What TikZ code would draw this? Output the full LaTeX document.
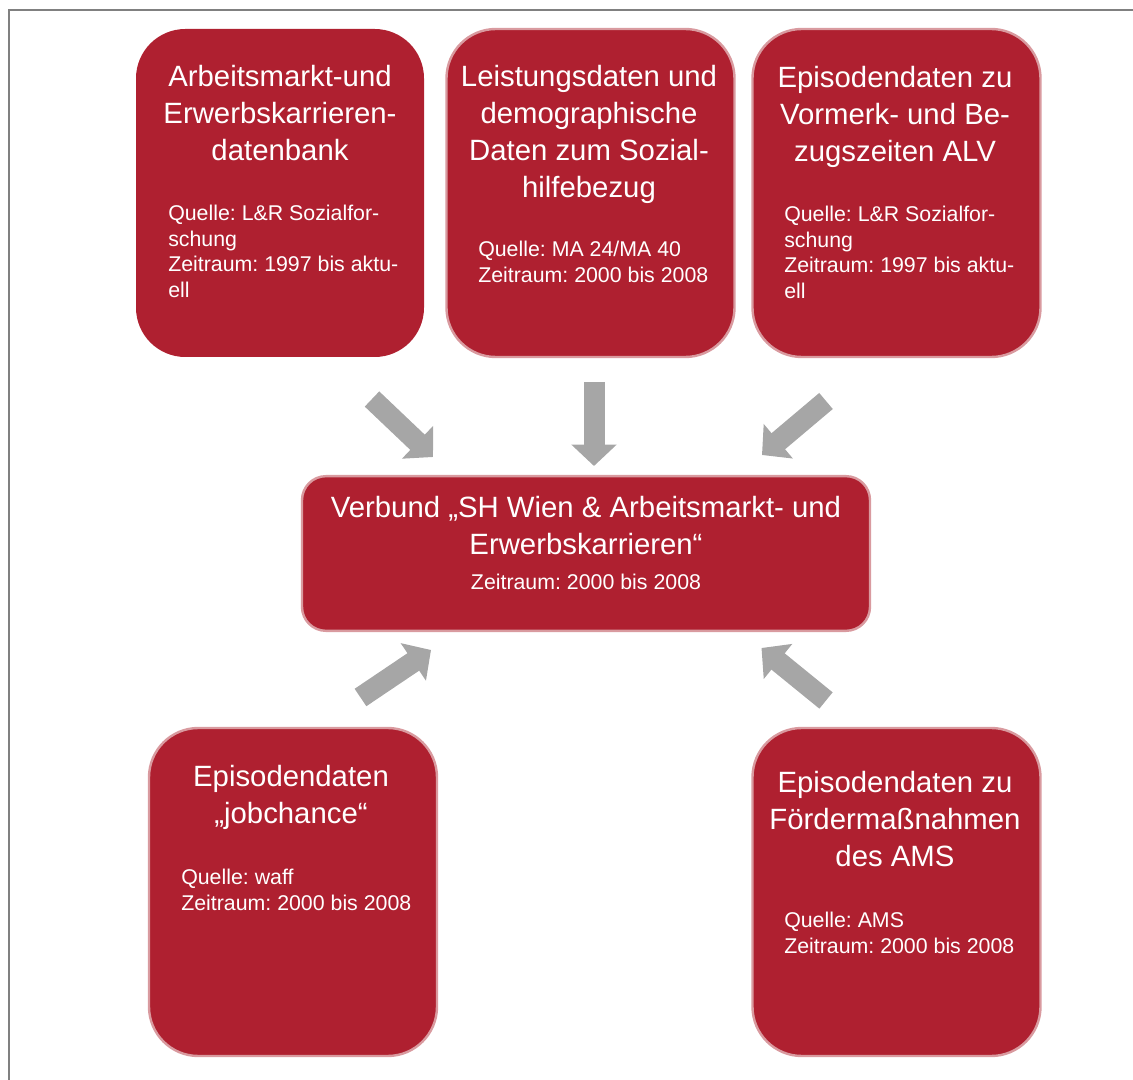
\documentclass[tikz,border=0pt]{standalone}
\usepackage{fontspec}
\setmainfont{Liberation Sans}
\usetikzlibrary{arrows.meta}
\definecolor{weinrot}{RGB}{175,32,48}
\definecolor{rahmen}{RGB}{217,154,159}
\definecolor{pfeilgrau}{RGB}{166,166,166}
\definecolor{linie}{RGB}{128,128,128}
\frenchspacing
\begin{document}
\begin{tikzpicture}[x=0.75pt,y=-0.75pt,
    box/.style={fill=weinrot,draw=rahmen,line width=1.8pt,rounded corners=37pt,
      minimum width=216pt,minimum height=246pt,inner sep=0pt},
    titel/.style={text=white,align=center,anchor=north,inner sep=0pt,
      font=\fontsize{22}{27.75}\selectfont},
    info/.style={text=white,align=left,anchor=north west,inner sep=0pt,
      font=\fontsize{16}{19.2}\selectfont},
    pfeil/.style={draw=pfeilgrau,line width=15.75pt,
      -{Triangle[width=33pt,length=16pt]}}]
    \useasboundingbox (0,0) rectangle (1133,1080);
    \draw[linie,line width=1.5pt] (9,1080) -- (9,10) -- (1133,10); %rahmen
    % obere reihe
    \node[box,draw=none] (amdb) at (280,193) {};
    \node[titel] (amdbtitel) at (280,65) {Arbeitsmarkt-und\\Erwerbskarrieren-\\datenbank};
    \node[info] (amdbinfo) at (168,205) {Quelle: L\&R Sozialfor-\\schung\\Zeitraum: 1997 bis aktu-\\ell};
    \node[box] (sozh) at (590.5,193) {};
    \node[titel] (sozhtitel) at (589,65) {Leistungsdaten und\\demographische\\Daten zum Sozial-\\hilfebezug};
    \node[info] (sozhinfo) at (478,241) {Quelle: MA 24/MA 40\\Zeitraum: 2000 bis 2008};
    \node[box] (alv) at (896.5,193) {};
    \node[titel] (alvtitel) at (895,66) {Episodendaten zu\\Vormerk- und Be-\\zugszeiten ALV};
    \node[info] (alvinfo) at (784,206) {Quelle: L\&R Sozialfor-\\schung\\Zeitraum: 1997 bis aktu-\\ell};
    % verbund
    \node[box,rounded corners=18pt,minimum width=426pt,minimum height=116pt] (verbund) at (586,553.5) {};
    \node[titel] (verbundtitel) at (586,496) {Verbund „SH Wien \& Arbeitsmarkt- und\\Erwerbskarrieren“};
    \node[titel,font=\fontsize{16}{19.2}\selectfont] (verbundinfo) at (586,574) {Zeitraum: 2000 bis 2008};
    % untere reihe
    \node[box] (job) at (293,892) {};
    \node[titel] (jobtitel) at (291,765) {Episodendaten\\„jobchance“};
    \node[info] (jobinfo) at (181,869) {Quelle: waff\\Zeitraum: 2000 bis 2008};
    \node[box] (ams) at (896.5,892) {};
    \node[titel] (amstitel) at (895,771) {Episodendaten zu\\Fördermaßnahmen\\des AMS};
    \node[info] (amsinfo) at (784,912) {Quelle: AMS\\Zeitraum: 2000 bis 2008};
    % pfeile
    \coordinate (p1a) at (372,399);   \coordinate (p1b) at (433,457);
    \coordinate (p2a) at (594,382);   \coordinate (p2b) at (594,466);
    \coordinate (p3a) at (826,401);   \coordinate (p3b) at (762,455);
    \coordinate (p4a) at (360.5,697.5); \coordinate (p4b) at (431,650);
    \coordinate (p5a) at (826,700.5); \coordinate (p5b) at (761.5,648);
    \draw[pfeil] (p1a) -- (p1b);
    \draw[pfeil] (p2a) -- (p2b);
    \draw[pfeil] (p3a) -- (p3b);
    \draw[pfeil] (p4a) -- (p4b);
    \draw[pfeil] (p5a) -- (p5b);
  \end{tikzpicture}
\end{document}
